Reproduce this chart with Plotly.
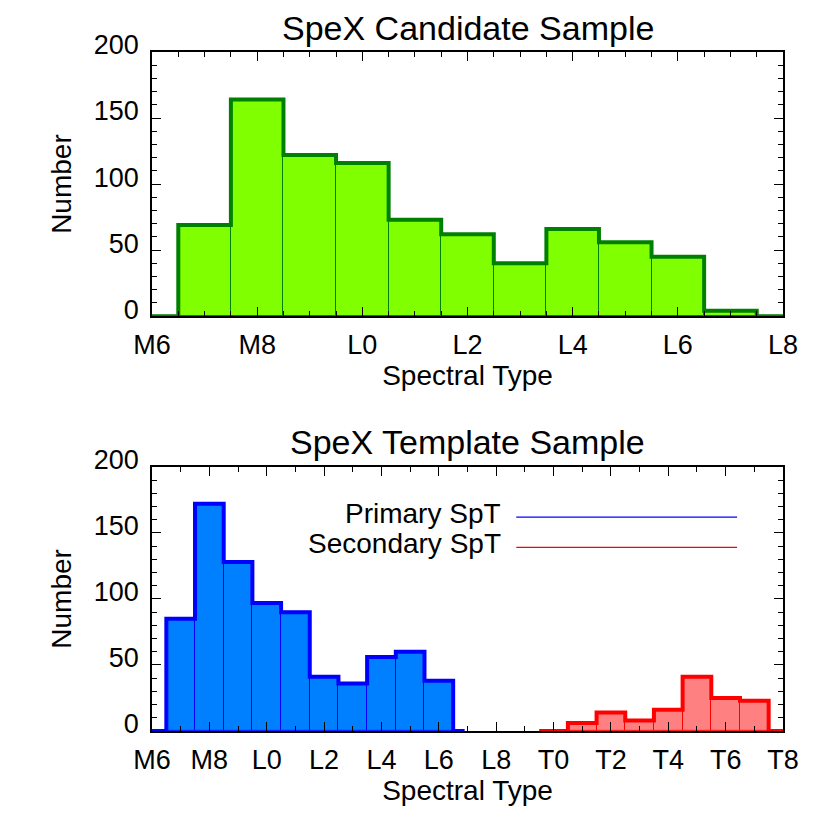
import plotly.graph_objects as go

top_centers = [1,2,3,4,5,6,7,8,9,10,11]
top_counts = [69,164,122,116,73,62,40,66,56,45,4]
prim_centers = [1,2,3,4,5,6,7,8,9,10]
prim_counts = [85,172,128,97,90,41,36,56,60,38]
sec_centers = [15,16,17,18,19,20,21]
sec_counts = [6,14,8,16,41,25,23]
top_ticks = ["M6","M8","L0","L2","L4","L6","L8"]
bot_ticks = ["M6","M8","L0","L2","L4","L6","L8","T0","T2","T4","T6","T8"]

def step(centers, counts, x0, x1):
    xs=[x0, centers[0]-0.5]; ys=[0,0]
    for c,v in zip(centers,counts):
        xs += [c-0.5, c+0.5]; ys += [v, v]
    xs += [centers[-1]+0.5, x1]; ys += [0,0]
    return xs, ys

fig = go.Figure()
def hist(centers, counts, fill, edge, x0, x1, xa, ya):
    fig.add_trace(go.Bar(x=centers, y=counts, width=1, marker=dict(color=fill, line=dict(color=edge, width=1)),
                         xaxis=xa, yaxis=ya, showlegend=False))
    xs, ys = step(centers, counts, x0, x1)
    fig.add_trace(go.Scatter(x=xs, y=ys, mode="lines", line=dict(color=edge, width=4),
                             xaxis=xa, yaxis=ya, showlegend=False, cliponaxis=False))

hist(top_centers, top_counts, "#7fff00", "#008000", 0, 12, "x", "y")
hist(prim_centers, prim_counts, "#0080ff", "#0000ff", 0, 10.9, "x2", "y2")
hist(sec_centers, sec_counts, "#ff8080", "#ff0000", 13.5, 22, "x2", "y2")

fig.add_trace(go.Scatter(x=[12.7,20.4], y=[162,162], mode="lines", line=dict(color="#0000ff", width=1.2),
                         xaxis="x2", yaxis="y2", showlegend=False))
fig.add_trace(go.Scatter(x=[12.7,20.4], y=[139,139], mode="lines", line=dict(color="#ff0000", width=1.2),
                         xaxis="x2", yaxis="y2", showlegend=False))
fig.add_annotation(x=12.25, y=165, xref="x2", yref="y2", text="Primary SpT", showarrow=False, xanchor="right", font=dict(size=28))
fig.add_annotation(x=12.25, y=142, xref="x2", yref="y2", text="Secondary SpT", showarrow=False, xanchor="right", font=dict(size=28))

tf = dict(size=27)
def mk(extra):
    d = dict(showgrid=False, zeroline=False, ticks="inside", mirror="ticks", showline=True, linecolor="black",
             linewidth=1.5, ticklen=9, tickcolor="black", tickfont=tf, automargin=False)
    d.update(extra); return d
fig.update_layout(
    width=830, height=830, plot_bgcolor="white", paper_bgcolor="white",
    font=dict(family="Liberation Sans, Arial", color="black"),
    margin=dict(l=144, r=55, t=44, b=107, autoexpand=False), bargap=0,
    xaxis=mk(dict(domain=[0,1], anchor="y", range=[0,12], tickvals=list(range(0,13,2)), ticktext=top_ticks,
               ticklabelstandoff=4,
               minor=dict(ticks="inside", ticklen=5, tickcolor="black", dtick=0.5),
               title=dict(text="Spectral Type", font=dict(size=28), standoff=6))),
    yaxis=mk(dict(domain=[0.611,1], anchor="x", range=[0,200], tickvals=[0,50,100,150,200], ticklabelshift=-7,
               ticklabelstandoff=6,
               minor=dict(ticks="inside", ticklen=5, tickcolor="black", dtick=10),
               title=dict(text="Number", font=dict(size=28), standoff=14))),
    xaxis2=mk(dict(domain=[0,1], anchor="y2", range=[0,22], tickvals=list(range(0,23,2)), ticktext=bot_ticks,
                ticklabelstandoff=4,
                minor=dict(ticks="inside", ticklen=5, tickcolor="black", dtick=1),
                title=dict(text="Spectral Type", font=dict(size=28), standoff=6))),
    yaxis2=mk(dict(domain=[0,0.389], anchor="x2", range=[0,200], tickvals=[0,50,100,150,200], ticklabelshift=-7,
                ticklabelstandoff=6,
                minor=dict(ticks="inside", ticklen=5, tickcolor="black", dtick=10),
                title=dict(text="Number", font=dict(size=28), standoff=14))),
)
fig.add_annotation(x=0.5, y=1.0, xref="paper", yref="paper", yshift=3, text="SpeX Candidate Sample", showarrow=False,
                   yanchor="bottom", font=dict(size=34))
fig.add_annotation(x=0.5, y=0.389, xref="paper", yref="paper", yshift=4, text="SpeX Template Sample", showarrow=False,
                   yanchor="bottom", font=dict(size=34))
fig.write_html("out.html")
